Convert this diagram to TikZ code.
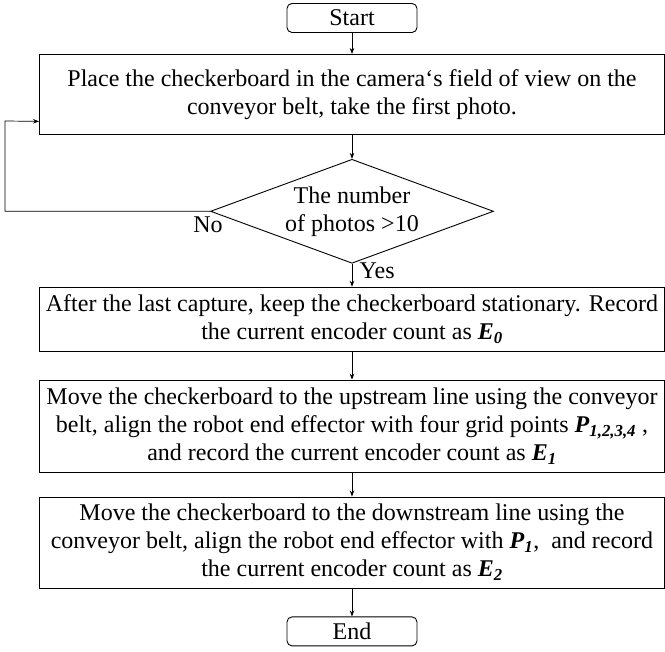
\documentclass[tikz,border=0pt]{standalone}
\usepackage{fontspec}
\setmainfont{Liberation Serif}
\usetikzlibrary{positioning,shapes.geometric,arrows.meta}

\newcommand{\bvar}[2]{\textbf{\textit{#1}}\textsubscript{\textbf{\textit{#2}}}}

\begin{document}
\begin{tikzpicture}[->,>={Stealth[length=6pt,width=4.5pt]},line width=0.7pt,x=1pt,y=1pt,
            every node/.style={font=\fontsize{24}{28}\selectfont},
            term node/.style={draw,rounded corners=5pt,minimum width=130pt,minimum height=29pt,inner sep=0pt,line width=0.9pt},
            box node/.style={draw,minimum width=625pt,align=center,inner sep=2pt,line width=0.9pt},
            test node/.style={draw,diamond,minimum width=283pt,minimum height=104pt,inner sep=-20pt,align=center,line width=0.9pt}]

        \useasboundingbox (0,0) rectangle (665,-652);

        % Define vertices
        \node[term node] (start) at (352,-18) {Start};
        \node[box node,minimum height=80pt] (place) [below=21pt of start]
            {Place the checkerboard in the camera‘s field of view on the\\conveyor belt, take the first photo.};
        \node[test node] (test) [below=24pt of place] {The number\\of photos >10};
        \node[box node,minimum height=64pt] (rec0) [below=23pt of test]
            {After the last capture, keep the checkerboard stationary. Record\\the current encoder count as \bvar{E}{0}};
        \node[box node,minimum height=92pt] (rec1) [below=28pt of rec0]
            {Move the checkerboard to the upstream line using the conveyor\\belt, align the robot end effector with four grid points \bvar{P}{1,2,3,4} ,\\and record the current encoder count as \bvar{E}{1}};
        \node[box node,minimum height=91pt] (rec2) [below=24pt of rec1]
            {Move the checkerboard to the downstream line using the\\conveyor belt, align the robot end effector with \bvar{P}{1},\ \ and record\\the current encoder count as \bvar{E}{2}};
        \node[term node] (end) [below=28pt of rec2] {End};
        \coordinate (back) at (5,-121);

        % Draw edges
        \path
            (start) edge (place)
            (place) edge (test)
            (test) edge node[right,pos=0.3,xshift=4pt] {Yes} (rec0)
            (rec0) edge (rec1)
            (rec1) edge (rec2)
            (rec2) edge (end);

        \draw (test.west) -| (back) -- ([yshift=-27pt]place.west);
        \node (no) [below=2pt of test.west,xshift=-2pt] {No};

        \end{tikzpicture}
\end{document}
